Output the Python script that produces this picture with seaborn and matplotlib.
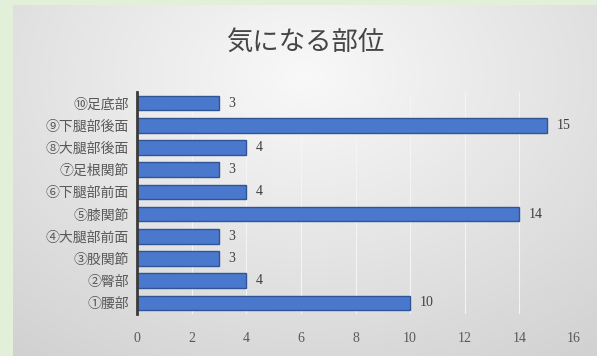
import numpy as np
import pandas as pd
import matplotlib
matplotlib.use("Agg")
import matplotlib.pyplot as plt
import seaborn as sns

categories = ['⑩足底部', '⑨下腿部後面', '⑧大腿部後面', '⑦足根関節', '⑥下腿部前面',
              '⑤膝関節', '④大腿部前面', '③股関節', '②臀部', '①腰部']
values = [3, 15, 4, 3, 4, 14, 3, 3, 4, 10]
x_ticks = [0, 2, 4, 6, 8, 10, 12, 14, 16]
title = '気になる部位'

sns.set_theme(style='white')
plt.rcParams['font.family'] = ['Noto Sans CJK JP', 'DejaVu Sans']

W, H = 597, 356
fig = plt.figure(figsize=(W / 100, H / 100), dpi=100)
fig.patch.set_facecolor('#e2efd9')

# panel background with soft radial gradient
bg = fig.add_axes([13 / W, 0, 1 - 13 / W, 1 - 5 / H])
yy, xx = np.mgrid[-1:1:200j, -1:1:300j]
r = np.sqrt((xx * 0.85) ** 2 + ((yy - 0.6) * 0.7) ** 2)
shade = np.clip(0.975 - 0.11 * r, 0.82, 0.98)
img = np.dstack([shade, shade, shade])
bg.imshow(img, aspect='auto', extent=[0, 1, 0, 1], origin='lower')
bg.axis('off')

# main plot area
left, right = 137, 574
top, bottom = 92, 314
ax = fig.add_axes([left / W, 1 - bottom / H, (right - left) / W, (bottom - top) / H])
ax.patch.set_alpha(0)

df = pd.DataFrame({'cat': categories, 'val': values})
sns.barplot(data=df, y='cat', x='val', order=categories, orient='h',
            color='#4a78cc', saturation=1, width=0.66, ax=ax,
            edgecolor='#2f5597', linewidth=1.0)

ax.bar_label(ax.containers[0], labels=[str(v) for v in values], padding=7,
             fontsize=10, color='#404040', family=['Liberation Serif', 'DejaVu Serif'])

ax.set_xlim(0, 16)
ax.set_xticks(x_ticks)
ax.set_xticklabels([str(t) for t in x_ticks], fontsize=10, color='#595959',
                   family=['Liberation Serif', 'DejaVu Serif'])
ax.tick_params(axis='x', length=0, pad=13)
ax.tick_params(axis='y', length=0, pad=6, labelsize=10, labelcolor='#595959')
for lab in ax.get_yticklabels():
    lab.set_family(['Noto Sans CJK JP', 'DejaVu Sans'])

ax.set_xlabel('')
ax.set_ylabel('')
ax.xaxis.grid(True, color='#f4f4f4', linewidth=0.8)
ax.set_axisbelow(True)
for s in ['top', 'right', 'bottom']:
    ax.spines[s].set_visible(False)
ax.spines['left'].set_color('#3a3a3a')
ax.spines['left'].set_linewidth(2)

fig.text((13 + W) / 2 / W, 1 - 42 / H, title, ha='center', va='center',
         fontsize=19, color='#454545')

fig.savefig('out.png', dpi=100)
